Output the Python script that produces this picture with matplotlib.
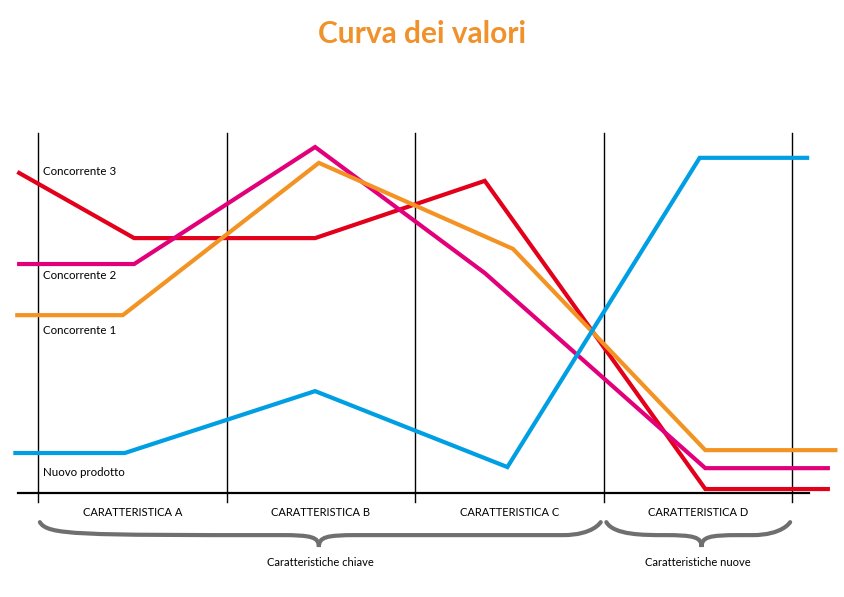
import matplotlib.pyplot as plt
from matplotlib.path import Path
from matplotlib.patches import PathPatch

plt.rcParams['font.family'] = ['Lato', 'DejaVu Sans']

# categorie (posizioni 0..4 = linee verticali)
categorie = ["CARATTERISTICA A", "CARATTERISTICA B", "CARATTERISTICA C", "CARATTERISTICA D"]
gruppi = ["Caratteristiche chiave", "Caratteristiche nuove"]

# serie: x in unita' di colonna, y su scala 0..10
x_conc3 = [-0.10, 0.51, 1.47, 2.37, 3.54, 4.19]
y_conc3 = [8.89, 7.08, 7.08, 8.67, 0.11, 0.11]
x_conc2 = [-0.10, 0.51, 1.47, 2.37, 3.54, 4.19]
y_conc2 = [6.36, 6.36, 9.61, 6.11, 0.69, 0.69]
x_conc1 = [-0.11, 0.45, 1.49, 2.52, 3.54, 4.23]
y_conc1 = [4.94, 4.94, 9.17, 6.78, 1.19, 1.19]
x_nuovo = [-0.12, 0.46, 1.47, 2.49, 3.51, 4.08]
y_nuovo = [1.11, 1.11, 2.83, 0.72, 9.31, 9.31]

fig = plt.figure(figsize=(8.45, 5.97), dpi=100)
ax = fig.add_axes([0, 0, 1, 1])
ax.set_xlim(-0.2016, 4.281)
ax.set_ylim(-2.889, 13.694)
ax.axis('off')

# griglia
for i in range(5):
    ax.plot([i, i], [-0.25, 10.0], color='black', lw=1.0)
ax.plot([-0.106, 4.09], [0, 0], color='black', lw=1.6)

ax.plot(x_conc3, y_conc3, color='#E2001A', lw=3, solid_joinstyle='miter')
ax.plot(x_conc2, y_conc2, color='#E2007A', lw=3, solid_joinstyle='miter')
ax.plot(x_conc1, y_conc1, color='#F39323', lw=3, solid_joinstyle='miter')
ax.plot(x_nuovo, y_nuovo, color='#009FE3', lw=3, solid_joinstyle='miter')

fs = 8.3
ax.text(0.025, 8.92, "Concorrente 3", fontsize=fs, va='center', ha='left')
ax.text(0.025, 6.03, "Concorrente 2", fontsize=fs, va='center', ha='left')
ax.text(0.025, 4.5, "Concorrente 1", fontsize=fs, va='center', ha='left')
ax.text(0.025, 0.58, "Nuovo prodotto", fontsize=fs, va='center', ha='left')

for i, c in enumerate(categorie):
    ax.text(i + 0.5, -0.55, c, fontsize=8, ha='center', va='center')


def graffa(x0, x1, xm, ytop=-0.81, ylev=-1.17, ytip=-1.5, d=0.2):
    verts = [(x0, ytop), (x0 + d * 0.2, ylev), (x0 + d, ylev),
             (xm - d, ylev),
             (xm - d * 0.2, ylev), (xm, ylev - 0.05), (xm, ytip),
             (xm, ylev - 0.05), (xm + d * 0.2, ylev), (xm + d, ylev),
             (x1 - d, ylev),
             (x1 - d * 0.2, ylev), (x1, ytop), (x1, ytop)]
    codes = [Path.MOVETO, Path.CURVE4, Path.CURVE4,
             Path.LINETO,
             Path.CURVE4, Path.CURVE4, Path.CURVE4,
             Path.CURVE4, Path.CURVE4, Path.CURVE4,
             Path.LINETO,
             Path.CURVE4, Path.CURVE4, Path.CURVE4]
    ax.add_patch(PathPatch(Path(verts, codes), facecolor='none',
                           edgecolor='#6F6F6F', lw=3, capstyle='round'))


graffa(0.01, 2.985, 1.49)
graffa(3.015, 3.99, 3.52)
ax.text(1.50, -1.92, gruppi[0], fontsize=8, ha='center', va='center')
ax.text(3.50, -1.92, gruppi[1], fontsize=8, ha='center', va='center')

fig.text(0.5, 1 - 34 / 597, "Curva dei valori", fontsize=21.5, fontweight='bold',
         color='#F0922B', ha='center', va='center')

plt.savefig('out.png', dpi=100)
